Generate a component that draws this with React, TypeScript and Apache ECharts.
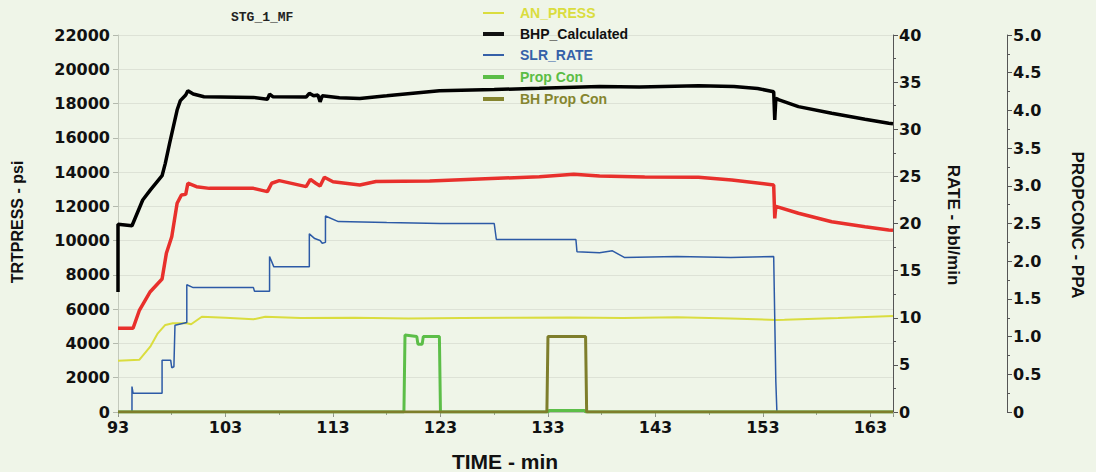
import React, { useEffect, useRef } from "react";
import * as echarts from "echarts";

// ---- data ----
const trtTime = [93, 94.4, 95.0, 96.0, 97.1, 97.5, 98.0, 98.5, 98.9, 99.3, 99.5, 100.3, 101.5, 105.6, 106.9, 107.3, 108.0, 110.5, 110.9, 111.4, 111.8, 112.2, 113.0, 115.5, 117.0, 122.0, 126.6, 132.2, 135.4, 137.8, 142, 147, 150.1, 154.0, 154.1, 154.2, 156.3, 159.4, 162.5, 164.7, 165.1];
const trtPsi = [4885, 4885, 5950, 7020, 7760, 9260, 10230, 12180, 12660, 12700, 13350, 13150, 13050, 13050, 12860, 13350, 13500, 13150, 13580, 13350, 13190, 13700, 13440, 13250, 13450, 13480, 13600, 13730, 13870, 13770, 13720, 13700, 13540, 13250, 11300, 12000, 11600, 11100, 10810, 10620, 10600];

const bhpTime = [93, 93, 94.3, 95.3, 96.0, 97.1, 97.4, 97.8, 98.5, 98.8, 99.3, 99.5, 100.0, 101.0, 105.6, 106.9, 107.1, 107.4, 110.5, 110.8, 111.2, 111.6, 111.8, 112.0, 113.6, 115.5, 118, 122.9, 128, 132.2, 137.8, 141.5, 147.0, 150.3, 152.5, 154.0, 154.1, 154.2, 154.5, 156.3, 159.4, 162.5, 164.7, 165.1];
const bhpPsi = [7000, 10950, 10870, 12370, 12950, 13790, 14510, 15680, 17620, 18170, 18500, 18750, 18560, 18400, 18360, 18250, 18550, 18400, 18380, 18600, 18450, 18500, 18100, 18450, 18340, 18300, 18450, 18750, 18820, 18890, 18990, 18960, 19040, 18990, 18880, 18690, 17040, 18300, 18210, 17820, 17430, 17080, 16850, 16820];

const anTime = [93, 95.0, 96.0, 96.7, 97.4, 98.1, 99.4, 99.8, 100.8, 103, 105.6, 106.7, 110, 115, 120, 125, 130, 135, 140, 145, 150, 154.3, 155, 160, 165.1];
const anPsi = [2990, 3050, 3810, 4590, 5080, 5180, 5180, 5120, 5560, 5500, 5410, 5560, 5480, 5500, 5450, 5480, 5500, 5520, 5480, 5530, 5450, 5370, 5380, 5480, 5600];

const slrTime = [93, 94.3, 94.3, 94.4, 97.1, 97.1, 97.9, 98.0, 98.2, 98.3, 99.4, 99.4, 100, 105.6, 105.7, 107.1, 107.1, 107.5, 110.8, 110.8, 111.3, 111.8, 112.0, 112.3, 112.3, 113.5, 118, 123, 128.0, 128.2, 131, 135.6, 135.7, 137.8, 139.0, 140.1, 145, 150, 154.0, 154.2, 154.3, 165.1];
const slrRate = [0, 0, 2.7, 2.0, 2.0, 5.5, 5.5, 4.7, 4.8, 9.2, 9.5, 13.5, 13.2, 13.2, 12.8, 12.8, 16.5, 15.4, 15.4, 18.9, 18.4, 18.2, 17.9, 18.0, 20.8, 20.2, 20.1, 20.0, 20.0, 18.3, 18.3, 18.3, 17.0, 16.9, 17.1, 16.4, 16.5, 16.4, 16.5, 3.2, 0, 0];

const propTime = [93, 119.6, 119.7, 120.8, 120.9, 121.3, 121.4, 122.9, 123.0, 133.0, 133.1, 136.4, 136.5, 165.1];
const propPpa = [0, 0, 1.02, 1.0, 0.9, 0.9, 1.0, 1.0, 0, 0, 0.02, 0.02, 0, 0];

const bhPropTime = [93, 132.9, 133.0, 136.5, 136.6, 165.1];
const bhPropPpa = [0, 0, 1.0, 1.0, 0, 0];

const xTicksStart = 93;
const xTickStep = 10;
const psiTicks = { min: 0, max: 22000, step: 2000 };
const rateTicks = { min: 0, max: 40, step: 5 };
const ppaTicks = { min: 0, max: 5, step: 0.5 };

const legendNames = ["AN_PRESS", "BHP_Calculated", "SLR_RATE", "Prop Con", "BH Prop Con"];

const zip = (t: number[], v: number[]) => t.map((x, i) => [x, v[i]]);

const C = {
  red: "#e8302c",
  black: "#000000",
  blue: "#2c5aa6",
  yellow: "#dadd3e",
  green: "#5cbe48",
  olive: "#7e7e2b",
};

const tickFont = { fontFamily: "DejaVu Sans", fontWeight: "bold" as const, fontSize: 16, color: "#111" };

export default function App() {
  const ref = useRef<HTMLDivElement>(null);
  useEffect(() => {
    if (!ref.current) return;
    const chart = echarts.init(ref.current, null, { renderer: "svg" });
    const legendColors = [C.yellow, "#111111", "#3560a8", C.green, "#85852f"];
    const legendText = [C.yellow, "#111111", "#3560a8", "#5bbd45", "#85852f"];
    const legendWidths = [2, 4, 2, 4, 4];
    const legendY = [13, 34, 55, 77, 99];
    const legendGraphics: any[] = [];
    legendNames.forEach((n, i) => {
      legendGraphics.push({
        type: "line",
        shape: { x1: 483, y1: legendY[i], x2: 504, y2: legendY[i] },
        style: { stroke: legendColors[i], lineWidth: legendWidths[i] },
        z: 10,
      });
      legendGraphics.push({
        type: "text",
        x: 520,
        y: legendY[i],
        style: {
          text: n,
          fill: legendText[i],
          font: "bold 14px 'Liberation Sans', Arial, sans-serif",
          verticalAlign: "middle",
          align: "left",
        },
        z: 10,
      });
    });

    chart.setOption({
      animation: false,
      backgroundColor: "#eff5e8",
      grid: { left: 118, right: 203, top: 35, bottom: 60 },
      xAxis: [
        {
          type: "value",
          min: xTicksStart,
          max: 165.1,
          interval: xTickStep,
          axisLine: { show: true, lineStyle: { color: "#b9bfb2" } },
          axisTick: { show: true, length: 5, lineStyle: { color: "#8d9288" } },
          minorTick: { show: true, splitNumber: 2, length: 3, lineStyle: { color: "#8d9288" } },
          axisLabel: { ...tickFont, margin: 7, showMaxLabel: false, formatter: (v: number) => String(Math.round(v)) },
          splitLine: { show: false },
        },
        {
          type: "value",
          position: "top",
          min: xTicksStart,
          max: 165.1,
          interval: 5,
          axisLine: { show: false },
          axisTick: { show: true, inside: true, length: 3, lineStyle: { color: "#9aa095" } },
          axisLabel: { show: false },
          splitLine: { show: false },
        },
      ],
      yAxis: [
        {
          type: "value",
          position: "left",
          min: psiTicks.min,
          max: psiTicks.max,
          interval: psiTicks.step,
          axisLine: { show: true, lineStyle: { color: "#c3c9bc" } },
          axisTick: { show: true, length: 5, lineStyle: { color: "#b3b9ad" } },
          axisLabel: { ...tickFont, margin: 8, formatter: (v: number) => String(Math.round(v)) },
          splitLine: { show: true, lineStyle: { color: "#dde2d6" } },
        },
        {
          type: "value",
          position: "right",
          min: rateTicks.min,
          max: rateTicks.max,
          interval: rateTicks.step,
          axisLine: { show: true, lineStyle: { color: "#555" } },
          axisTick: { show: true, length: 5, lineStyle: { color: "#555" } },
          minorTick: { show: true, splitNumber: 2, length: 3, lineStyle: { color: "#555" } },
          axisLabel: { ...tickFont, margin: 6, formatter: (v: number) => String(Math.round(v)) },
          splitLine: { show: false },
        },
        {
          type: "value",
          position: "right",
          offset: 114,
          min: ppaTicks.min,
          max: ppaTicks.max,
          interval: ppaTicks.step,
          axisLine: { show: true, lineStyle: { color: "#555" } },
          axisTick: { show: true, length: 5, lineStyle: { color: "#555" } },
          minorTick: { show: true, splitNumber: 2, length: 3, lineStyle: { color: "#555" } },
          axisLabel: {
            ...tickFont,
            margin: 6,
            formatter: (v: number) => (v === 0 ? "0" : v.toFixed(1)),
          },
          splitLine: { show: false },
        },
      ],
      series: [
        { name: "AN_PRESS", type: "line", yAxisIndex: 0, data: zip(anTime, anPsi), showSymbol: false, lineStyle: { color: C.yellow, width: 2 } },
        { name: "TRTPRESS", type: "line", yAxisIndex: 0, data: zip(trtTime, trtPsi), showSymbol: false, lineStyle: { color: C.red, width: 3.5 } },
        { name: "BHP_Calculated", type: "line", yAxisIndex: 0, data: zip(bhpTime, bhpPsi), showSymbol: false, lineStyle: { color: C.black, width: 3.5 } },
        { name: "SLR_RATE", type: "line", yAxisIndex: 1, data: zip(slrTime, slrRate), showSymbol: false, lineStyle: { color: C.blue, width: 1.5 } },
        { name: "Prop Con", type: "line", yAxisIndex: 2, data: zip(propTime, propPpa), showSymbol: false, lineStyle: { color: C.green, width: 3 } },
        { name: "BH Prop Con", type: "line", yAxisIndex: 2, data: zip(bhPropTime, bhPropPpa), showSymbol: false, lineStyle: { color: C.olive, width: 3 } },
      ],
      graphic: [
        ...legendGraphics,
        {
          type: "text",
          x: 231,
          y: 17,
          style: { text: "STG_1_MF", fill: "#222", font: "bold 13px 'Liberation Mono', 'Courier New', monospace", verticalAlign: "middle", align: "left" },
        },
        {
          type: "text",
          x: 17,
          y: 222,
          rotation: Math.PI / 2,
          style: { text: "TRTPRESS - psi", fill: "#111", font: "bold 16px 'Liberation Sans', Arial, sans-serif", verticalAlign: "middle", align: "center" },
        },
        {
          type: "text",
          x: 953,
          y: 225,
          rotation: -Math.PI / 2,
          style: { text: "RATE - bbl/min", fill: "#111", font: "bold 17px 'Liberation Sans', Arial, sans-serif", verticalAlign: "middle", align: "center" },
        },
        {
          type: "text",
          x: 1077,
          y: 225,
          rotation: -Math.PI / 2,
          style: { text: "PROPCONC - PPA", fill: "#111", font: "bold 17px 'Liberation Sans', Arial, sans-serif", verticalAlign: "middle", align: "center" },
        },
        {
          type: "text",
          x: 505,
          y: 461,
          style: { text: "TIME - min", fill: "#111", font: "bold 21px 'Liberation Sans', Arial, sans-serif", verticalAlign: "middle", align: "center" },
        },
      ],
    });
    return () => chart.dispose();
  }, []);
  return (
    <div
      ref={ref}
      style={{ position: "fixed", left: 0, top: 0, width: 1096, height: 472 }}
    />
  );
}
